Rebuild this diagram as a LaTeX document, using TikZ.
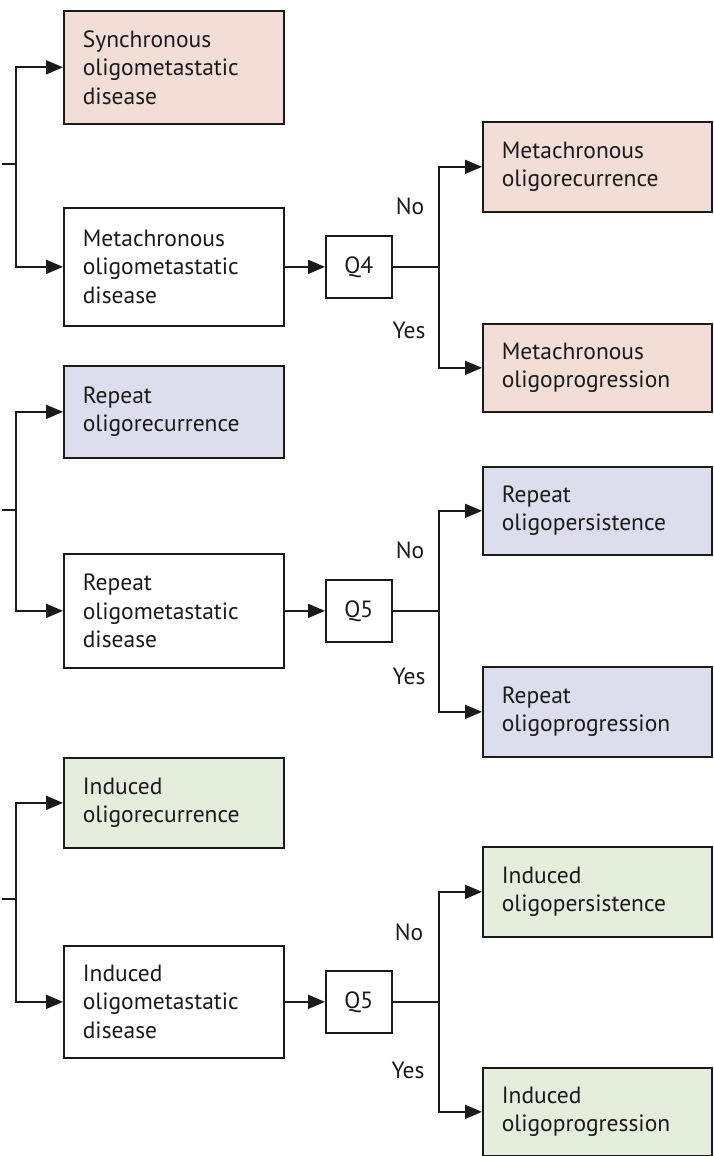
\documentclass[tikz,border=0pt]{standalone}
\usepackage{fontspec}
\setmainfont{PT Sans}
\usetikzlibrary{arrows.meta,calc}
\definecolor{pinkfill}{HTML}{F2DDD7}
\definecolor{bluefill}{HTML}{DCDEEE}
\definecolor{greenfill}{HTML}{E5EDDC}
\definecolor{ink}{HTML}{1A1A1A}
\tikzset{
  boxstyle/.style={draw=ink, line width=1.7pt, rectangle, anchor=north west,
    inner xsep=19pt, inner ysep=2pt, align=left, text=ink,
    font=\fontsize{23.5}{28.5}\selectfont},
  leftbox/.style={boxstyle, text width=182pt, minimum width=220pt},
  rightbox/.style={boxstyle, text width=191pt, minimum width=229pt},
  qbox/.style={draw=ink, line width=1.7pt, rectangle, anchor=north west,
    minimum width=66pt, minimum height=62pt, inner sep=0pt, text=ink,
    font=\fontsize{23.5}{28}\selectfont},
  lbl/.style={text=ink, inner sep=0pt, font=\fontsize{23.5}{28}\selectfont},
  conn/.style={draw=ink, line width=1.7pt},
  arr/.style={conn, -{Triangle[length=17pt,width=14pt]}}
}
\begin{document}
\begin{tikzpicture}[x=1pt,y=-1pt]
\useasboundingbox (0,0) rectangle (713,1156);

% ---------- top section ----------
\node[leftbox, fill=pinkfill, minimum height=113pt] (syn) at (63,10) {Synchronous\\oligometastatic\\disease};
\node[leftbox, minimum height=118pt] (metaom) at (63,207) {Metachronous\\oligometastatic\\disease};
\node[qbox] (q4) at (325,235) {Q4};
\node[rightbox, fill=pinkfill, minimum height=90pt] (metarec) at (482,121) {Metachronous\\oligorecurrence};
\node[rightbox, fill=pinkfill, minimum height=88pt] (metaprog) at (482,323) {Metachronous\\oligoprogression};
\node[lbl] (no1) at (410,206) {No};
\node[lbl] (yes1) at (409,330) {Yes};

\coordinate (s1) at (2,164);
\coordinate (j1) at (16,164);
\coordinate (k1) at ($(q4.east)+(46,0)$);
\draw[conn] (s1) -- (j1);
\draw[arr] (j1) |- (syn.west);
\draw[arr] (j1) |- (metaom.west);
\draw[arr] (metaom.east) -- (q4.west);
\draw[conn] (q4.east) -- (k1);
\draw[arr] (k1) |- (metarec.west);
\draw[arr] (k1) |- (metaprog.west);

% ---------- middle section ----------
\node[leftbox, fill=bluefill, minimum height=92pt] (reprec) at (63,365) {Repeat\\oligorecurrence};
\node[leftbox, minimum height=114pt] (repom) at (63,553) {Repeat\\oligometastatic\\disease};
\node[qbox] (q5a) at (325,579) {Q5};
\node[rightbox, fill=bluefill, minimum height=88pt] (reppers) at (482,466) {Repeat\\oligopersistence};
\node[rightbox, fill=bluefill, minimum height=90pt] (repprog) at (482,666) {Repeat\\oligoprogression};
\node[lbl] (no2) at (410,550) {No};
\node[lbl] (yes2) at (409,676) {Yes};

\coordinate (s2) at (2,510);
\coordinate (j2) at (16,510);
\coordinate (k2) at ($(q5a.east)+(46,0)$);
\draw[conn] (s2) -- (j2);
\draw[arr] (j2) |- (reprec.west);
\draw[arr] (j2) |- (repom.west);
\draw[arr] (repom.east) -- (q5a.west);
\draw[conn] (q5a.east) -- (k2);
\draw[arr] (k2) |- (reppers.west);
\draw[arr] (k2) |- (repprog.west);

% ---------- bottom section ----------
\node[leftbox, fill=greenfill, minimum height=90pt] (indrec) at (63,757) {Induced\\oligorecurrence};
\node[leftbox, minimum height=112pt] (indom) at (63,945) {Induced\\oligometastatic\\disease};
\node[qbox] (q5b) at (325,970) {Q5};
\node[rightbox, fill=greenfill, minimum height=90pt] (indpers) at (482,846) {Induced\\oligopersistence};
\node[rightbox, fill=greenfill, minimum height=88pt] (indprog) at (482,1067) {Induced\\oligoprogression};
\node[lbl] (no3) at (409,932) {No};
\node[lbl] (yes3) at (408,1070) {Yes};

\coordinate (s3) at (2,899);
\coordinate (j3) at (16,899);
\coordinate (k3) at ($(q5b.east)+(46,0)$);
\draw[conn] (s3) -- (j3);
\draw[arr] (j3) |- (indrec.west);
\draw[arr] (j3) |- (indom.west);
\draw[arr] (indom.east) -- (q5b.west);
\draw[conn] (q5b.east) -- (k3);
\draw[arr] (k3) |- (indpers.west);
\draw[arr] (k3) |- (indprog.west);
\end{tikzpicture}
\end{document}
